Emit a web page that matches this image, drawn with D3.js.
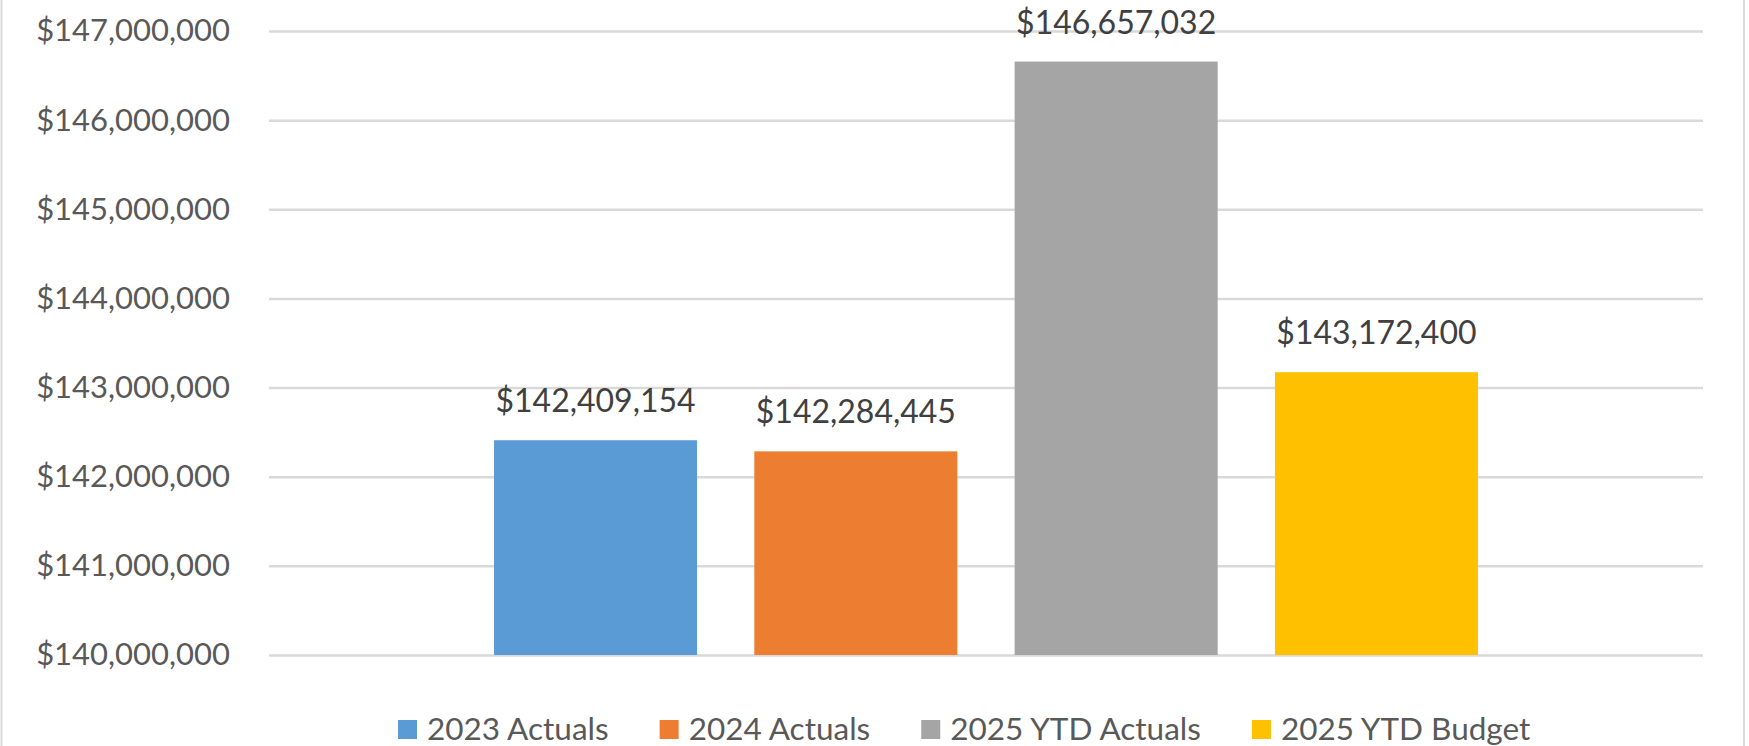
<!DOCTYPE html>
<html>
<head>
<meta charset="utf-8">
<script src="https://cdn.jsdelivr.net/npm/d3@7"></script>
<style>
  body { margin: 0; background: #fff; }
  svg { display: block; font-family: Lato, "Open Sans", sans-serif; }
</style>
</head>
<body>
<div id="chart"></div>
<script>
// Chart data
const categories = [""];
const series = ["2023 Actuals", "2024 Actuals", "2025 YTD Actuals", "2025 YTD Budget"];
const values = [142409154, 142284445, 146657032, 143172400];
const colors = ["#5B9BD5", "#ED7D31", "#A5A5A5", "#FFC000"];
const yTicks = [140000000, 141000000, 142000000, 143000000, 144000000, 145000000, 146000000, 147000000];

// Size settings
const W = 1749, H = 746;
const margin = { top: 31, right: 46, bottom: 91, left: 269 },
    width = W - margin.left - margin.right,
    height = H - margin.top - margin.bottom;

const fmt = function (d) { return "$" + d3.format(",")(d); };

const svg = d3.select("#chart").append("svg")
    .attr("width", W)
    .attr("height", H);

// chart border (left and right edges visible)
svg.append("line").attr("x1", 1.5).attr("x2", 1.5).attr("y1", 0).attr("y2", H)
    .attr("stroke", "#d9d9d9").attr("stroke-width", 2);
svg.append("line").attr("x1", W - 5).attr("x2", W - 5).attr("y1", 0).attr("y2", H)
    .attr("stroke", "#d9d9d9").attr("stroke-width", 2);

const g = svg.append("g")
    .attr("transform", `translate(${margin.left},${margin.top})`);

// Scales
const x0 = d3.scaleBand()
    .domain(categories)
    .range([0, width])
    .paddingInner(0)
    .paddingOuter(0.2287);

const x1 = d3.scaleBand()
    .domain(series)
    .range([0, x0.bandwidth()])
    .paddingInner(0.22)
    .paddingOuter(0);

const y = d3.scaleLinear()
    .domain([140000000, 147000000])
    .range([height, 0]);

// Y axis with gridlines
const yAxis = g.append("g")
    .call(d3.axisLeft(y)
        .tickValues(yTicks)
        .tickFormat(fmt)
        .tickSizeInner(-width)
        .tickSizeOuter(0)
        .tickPadding(39));

yAxis.select(".domain").remove();
yAxis.selectAll(".tick line")
    .attr("stroke", "#d9d9d9")
    .attr("stroke-width", 2.5);
yAxis.selectAll(".tick text")
    .attr("fill", "#595959")
    .style("font-size", "31px")
    .style("font-family", "Lato, 'Open Sans', sans-serif");

// Bars
const rows = series.map(function (s, i) { return { cat: categories[0], name: s, value: values[i], color: colors[i] }; });

const grp = g.append("g")
    .attr("transform", `translate(${x0(categories[0])},0)`);

grp.selectAll("rect")
    .data(rows)
    .join("rect")
    .attr("x", function (d) { return x1(d.name); })
    .attr("y", function (d) { return y(d.value); })
    .attr("width", x1.bandwidth())
    .attr("height", function (d) { return height - y(d.value); })
    .attr("fill", function (d) { return d.color; });

// Value labels
grp.selectAll("text.val")
    .data(rows)
    .join("text")
    .attr("class", "val")
    .attr("x", function (d) { return x1(d.name) + x1.bandwidth() / 2; })
    .attr("y", function (d) { return y(d.value) - 28; })
    .attr("text-anchor", "middle")
    .attr("fill", "#404040")
    .style("font-size", "32px")
    .text(function (d) { return fmt(d.value); });

// Legend
const legend = svg.append("g").attr("transform", "translate(0,729)");
let lx = 398;
rows.forEach(function (d) {
    legend.append("rect")
        .attr("x", lx)
        .attr("y", -9)
        .attr("width", 19)
        .attr("height", 19)
        .attr("fill", d.color);
    const t = legend.append("text")
        .attr("x", lx + 29)
        .attr("y", 0)
        .attr("dy", "0.36em")
        .attr("fill", "#595959")
        .style("font-size", "31.5px")
        .text(d.name);
    lx += 29 + t.node().getComputedTextLength() + 51;
});
</script>
</body>
</html>
